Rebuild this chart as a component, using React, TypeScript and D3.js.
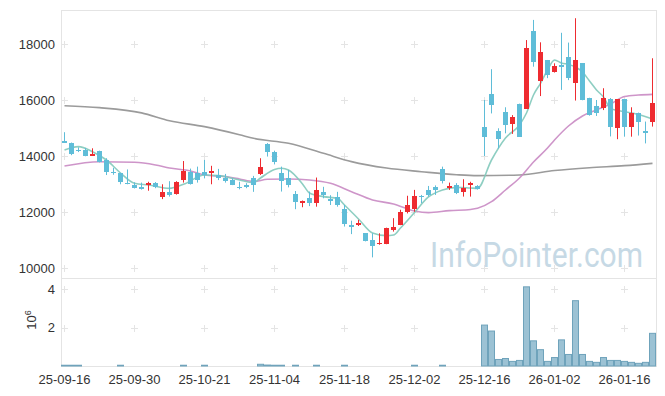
import React from 'react'
import * as d3 from 'd3'

// trading days (yy-mm-dd), one candle each
const days = [
  '25-09-16', '25-09-17', '25-09-18', '25-09-19', '25-09-22', '25-09-23', '25-09-24', '25-09-25', '25-09-26', '25-09-29',
  '25-09-30', '25-10-01', '25-10-02', '25-10-10', '25-10-13', '25-10-14', '25-10-15', '25-10-16', '25-10-17', '25-10-20',
  '25-10-21', '25-10-22', '25-10-23', '25-10-24', '25-10-27', '25-10-28', '25-10-29', '25-10-30', '25-10-31', '25-11-03',
  '25-11-04', '25-11-05', '25-11-06', '25-11-07', '25-11-10', '25-11-11', '25-11-12', '25-11-13', '25-11-14', '25-11-17',
  '25-11-18', '25-11-19', '25-11-20', '25-11-21', '25-11-24', '25-11-25', '25-11-26', '25-11-27', '25-11-28', '25-12-01',
  '25-12-02', '25-12-03', '25-12-04', '25-12-05', '25-12-08', '25-12-09', '25-12-10', '25-12-11', '25-12-12', '25-12-15',
  '25-12-16', '25-12-17', '25-12-18', '25-12-19', '25-12-22', '25-12-23', '25-12-24', '25-12-26', '25-12-29', '25-12-30',
  '26-01-02', '26-01-05', '26-01-06', '26-01-07', '26-01-08', '26-01-09', '26-01-12', '26-01-13', '26-01-14', '26-01-15',
  '26-01-16', '26-01-19', '26-01-20', '26-01-21', '26-01-22',
]

const tickLabels = ['25-09-16', '25-09-30', '25-10-21', '25-11-04', '25-11-18', '25-12-02', '25-12-16', '26-01-02', '26-01-16']

const open = [
  14550, 14450, 14230, 14210, 14010, 14180, 13850, 13440, 13380, 13030,
  12970, 12900, 12960, 13040, 12520, 12720, 12630, 13150, 13420, 13400,
  13440, 13410, 13310, 13200, 13160, 12900, 12960, 13230, 13360, 14430,
  14140, 13380, 13200, 12640, 12320, 12500, 12320, 12710, 12450, 12520,
  12100, 11540, 11520, 11240, 11000, 10840, 10860, 11360, 11540, 11990,
  12110, 12580, 12780, 12900, 13520, 12870, 12960, 12710, 12970, 12920,
  15040, 16210, 14890, 15570, 15140, 15860, 15690, 18460, 16690, 17420,
  17010, 17250, 17520, 16620, 17310, 16060, 15780, 15730, 16050, 14990,
  16020, 15050, 15520, 14900, 15230,
]
const high = [
  14850, 14480, 14310, 14290, 14275, 14190, 13920, 13580, 13400, 13520,
  13060, 13050, 13080, 13070, 12990, 13100, 13100, 13820, 13550, 13620,
  13860, 13650, 13540, 13360, 13200, 13080, 13030, 13290, 13920, 14460,
  14190, 13620, 13500, 12750, 12410, 12730, 13230, 12900, 12600, 12720,
  12250, 11690, 11720, 11250, 11240, 11240, 11440, 11780, 12080, 12580,
  12790, 12610, 12930, 12950, 13620, 13050, 13030, 13170, 13080, 12960,
  16000, 17100, 14990, 15740, 15460, 15870, 18140, 18860, 18060, 17430,
  17310, 18400, 18050, 18920, 17320, 16080, 16000, 16420, 16070, 16030,
  16030, 15740, 15550, 15230, 17490,
]
const low = [
  14470, 14030, 14140, 13990, 14000, 13770, 13320, 13330, 12990, 12990,
  12840, 12800, 12760, 12850, 12460, 12550, 12620, 13050, 12980, 13050,
  13200, 12990, 13140, 13050, 12960, 12810, 12850, 12720, 13320, 13980,
  13700, 12730, 12880, 12100, 12170, 12210, 12190, 12490, 12250, 12190,
  11480, 11210, 11500, 10950, 10380, 10830, 10850, 11300, 11530, 11950,
  12010, 12320, 12550, 12610, 13020, 12790, 12640, 12550, 12550, 12800,
  14000, 15520, 14270, 14810, 14790, 14680, 15680, 17190, 16140, 16780,
  16980, 16360, 16710, 15980, 15990, 15440, 15430, 15640, 14700, 14600,
  14690, 14690, 14730, 14450, 15050,
]
const close = [
  14480, 14070, 14170, 14010, 14070, 13780, 13420, 13390, 13080, 13000,
  12870, 12820, 13020, 12910, 12720, 12610, 13070, 13460, 13000, 13150,
  13310, 13460, 13230, 13090, 12980, 12870, 12880, 12980, 13600, 14160,
  13780, 13090, 12970, 12370, 12400, 12320, 12780, 12610, 12410, 12250,
  11570, 11480, 11600, 10980, 10790, 10880, 11420, 11460, 12010, 12250,
  12570, 12560, 12610, 12790, 13090, 12940, 12670, 12840, 13040, 12820,
  14690, 15830, 14610, 15110, 15400, 14690, 17840, 17370, 17700, 16890,
  17230, 17190, 16800, 17430, 16000, 15470, 15550, 16060, 15030, 16020,
  15050, 15520, 15230, 14810, 15880,
]
// volume in millions of shares
const volume = [
  0.04, 0.04, 0.04, 0.01, 0.01, 0.01, 0.01, 0.01, 0.04, 0.01,
  0.01, 0.01, 0.01, 0.01, 0.01, 0.01, 0.01, 0.04, 0.01, 0.01,
  0.04, 0.01, 0.01, 0.01, 0.01, 0.01, 0.01, 0.01, 0.09, 0.05,
  0.04, 0.04, 0.01, 0.04, 0.01, 0.01, 0.04, 0.01, 0.01, 0.01,
  0.04, 0.01, 0.01, 0.01, 0.01, 0.01, 0.01, 0.01, 0.01, 0.01,
  0.04, 0.01, 0.01, 0.01, 0.04, 0.01, 0.01, 0.01, 0.01, 0.01,
  2.13, 1.82, 0.34, 0.39, 0.24, 0.29, 4.12, 1.31, 0.85, 0.24,
  0.44, 1.36, 0.6, 3.4, 0.6, 0.24, 0.19, 0.44, 0.29, 0.29,
  0.24, 0.19, 0.14, 0.19, 1.7,
]

// moving averages: [day index, price]
const maShort: [number, number][] = [
  [0, 14215], [2, 14333], [4, 14154], [6, 13857], [8, 13393], [10, 13024], [12, 12964], [15, 12845],
  [17, 12988], [20, 13321], [22, 13298], [25, 13143], [27, 13048], [28, 13214], [30, 13518], [31, 13560],
  [32, 13500], [34, 13000], [35, 12679], [37, 12548], [39, 12488], [40, 12250], [42, 11750], [44, 11250],
  [46, 11155], [47, 11179], [48, 11429], [50, 11982], [52, 12536], [54, 12786], [56, 12881], [58, 12857],
  [59, 12845], [61, 13857], [63, 14643], [65, 15107], [66, 15536], [67, 16179], [68, 16596], [69, 17071],
  [70, 17429], [71, 17321], [72, 17268], [73, 17179], [74, 17000], [75, 16679], [76, 16357], [77, 16107],
  [78, 15703], [79, 15625], [80, 15583], [82, 15482], [84, 15321],
]
const maMid: [number, number][] = [
  [0, 13643], [5, 13797], [10, 13775], [13, 13679], [15, 13571], [18, 13464], [20, 13321], [23, 13262],
  [25, 13179], [27, 13089], [29, 13167], [32, 13179], [35, 13143], [38, 13024], [41, 12726], [44, 12429],
  [47, 12286], [50, 12036], [52, 11976], [55, 12048], [58, 12090], [59, 12131], [61, 12369], [63, 12786],
  [65, 13214], [67, 13786], [69, 14286], [70, 14571], [72, 15071], [74, 15429], [76, 15643], [78, 15857],
  [80, 16125], [82, 16179], [84, 16202],
]
const maLong: [number, number][] = [
  [0, 15797], [5, 15726], [11, 15540], [15, 15260], [20, 15048], [25, 14760], [27, 14631], [32, 14452],
  [37, 14095], [41, 13800], [46, 13570], [51, 13440], [56, 13330], [59, 13298], [65, 13321], [70, 13480],
  [75, 13583], [80, 13655], [84, 13738],
]

const priceTicks = [10000, 12000, 14000, 16000, 18000]
const volumeTicks = [2, 4]

const W = 665
const H = 396
const plotL = 61.5
const plotR = 656.5
const plotT = 10.5
const split = 278.5
const plotB = 366.5

const upColor = '#ee2b30'
const downColor = '#5fbdd8'
const font = '"Liberation Sans", Arial, sans-serif'

export default function App() {
  const x = d3.scaleBand<number>().domain(d3.range(days.length)).range([60.5, 655.5])
  const cx = (i: number) => Math.round(x(i)! + x.bandwidth() / 2)

  const y = d3.scaleLinear().domain([9643, 19214]).range([278, 10])
  const yv = d3.scaleLinear().domain([0, 4.58]).range([366, 278])

  const line = d3.line<[number, number]>()
    .x(d => cx(d[0]) + 0.5)
    .y(d => y(d[1]))
    .curve(d3.curveMonotoneX)

  const tickIdx = tickLabels.map(t => days.indexOf(t))

  const cross = (px: number, py: number, key: string) => (
    <g key={key} stroke="#e4e4e4" strokeWidth={1}>
      <line x1={px - 3} x2={px + 4} y1={py + 0.5} y2={py + 0.5} />
      <line x1={px + 0.5} x2={px + 0.5} y1={py - 3} y2={py + 4} />
    </g>
  )

  return (
    <svg width={W} height={H} style={{ position: 'absolute', left: 0, top: 0, background: '#fff' }}>
      {/* panel frames */}
      <rect x={plotL} y={plotT} width={plotR - plotL} height={split - plotT} fill="none" stroke="#e4e4e4" />
      <rect x={plotL} y={split} width={plotR - plotL} height={plotB - split} fill="none" stroke="#e4e4e4" />

      {/* grid crosses */}
      {tickIdx.map(i => priceTicks.map(v => cross(cx(i), Math.round(y(v)), `p${i}-${v}`)))}
      {tickIdx.map(i => volumeTicks.map(v => cross(cx(i), Math.round(yv(v)), `v${i}-${v}`)))}

      <g transform="translate(430,267) scale(1,1.15)">
        <text x={0} y={0} fontFamily="Roboto, sans-serif" fontSize={30} fill="#c6d9e5">InfoPointer.com</text>
      </g>

      {/* moving averages */}
      <path d={line(maLong)!} fill="none" stroke="#9b9b9b" strokeWidth={1.6} />
      <path d={line(maMid)!} fill="none" stroke="#c98ac3" strokeWidth={1.6} opacity={0.9} />
      <path d={line(maShort)!} fill="none" stroke="#82c9bb" strokeWidth={1.6} opacity={0.9} />

      {/* candles */}
      {days.map((d, i) => {
        const c = cx(i)
        const up = close[i] > open[i]
        const col = up ? upColor : downColor
        const top = Math.round(y(Math.max(open[i], close[i])))
        const bot = Math.round(y(Math.min(open[i], close[i])))
        return (
          <g key={d}>
            <line x1={c + 0.5} x2={c + 0.5} y1={y(high[i])} y2={y(low[i])} stroke={col} strokeWidth={1} />
            <rect x={c - 2} y={top} width={5} height={Math.max(1, bot - top)} fill={col} shapeRendering="crispEdges" />
          </g>
        )
      })}

      {/* volume */}
      {days.map((d, i) => {
        const h = yv(0) - yv(volume[i])
        if (h < 0.5) return null
        const c = cx(i)
        return (
          <rect key={'vol' + d} x={c - 2.5} y={yv(volume[i])} width={6} height={h}
            fill="#9cc2d4" stroke="#6fa3bb" strokeWidth={1} />
        )
      })}

      {/* price axis labels */}
      {priceTicks.map(v => (
        <text key={v} x={55} y={y(v)} dy="0.35em" textAnchor="end" fontFamily={font} fontSize={13} fill="#333">{v}</text>
      ))}
      {volumeTicks.map(v => (
        <text key={v} x={55} y={yv(v)} dy="0.35em" textAnchor="end" fontFamily={font} fontSize={13} fill="#333">{v}</text>
      ))}
      <text transform="translate(36,320) rotate(-90)" textAnchor="middle" fontFamily={font} fontSize={13} fill="#333">
        10<tspan dy={-5} fontSize={9}>6</tspan>
      </text>

      {/* date labels */}
      {tickIdx.map((i, k) => (
        <text key={k} x={cx(i) + 0.5} y={384} textAnchor="middle" fontFamily={font} fontSize={13} fill="#333">{tickLabels[k]}</text>
      ))}
    </svg>
  )
}
